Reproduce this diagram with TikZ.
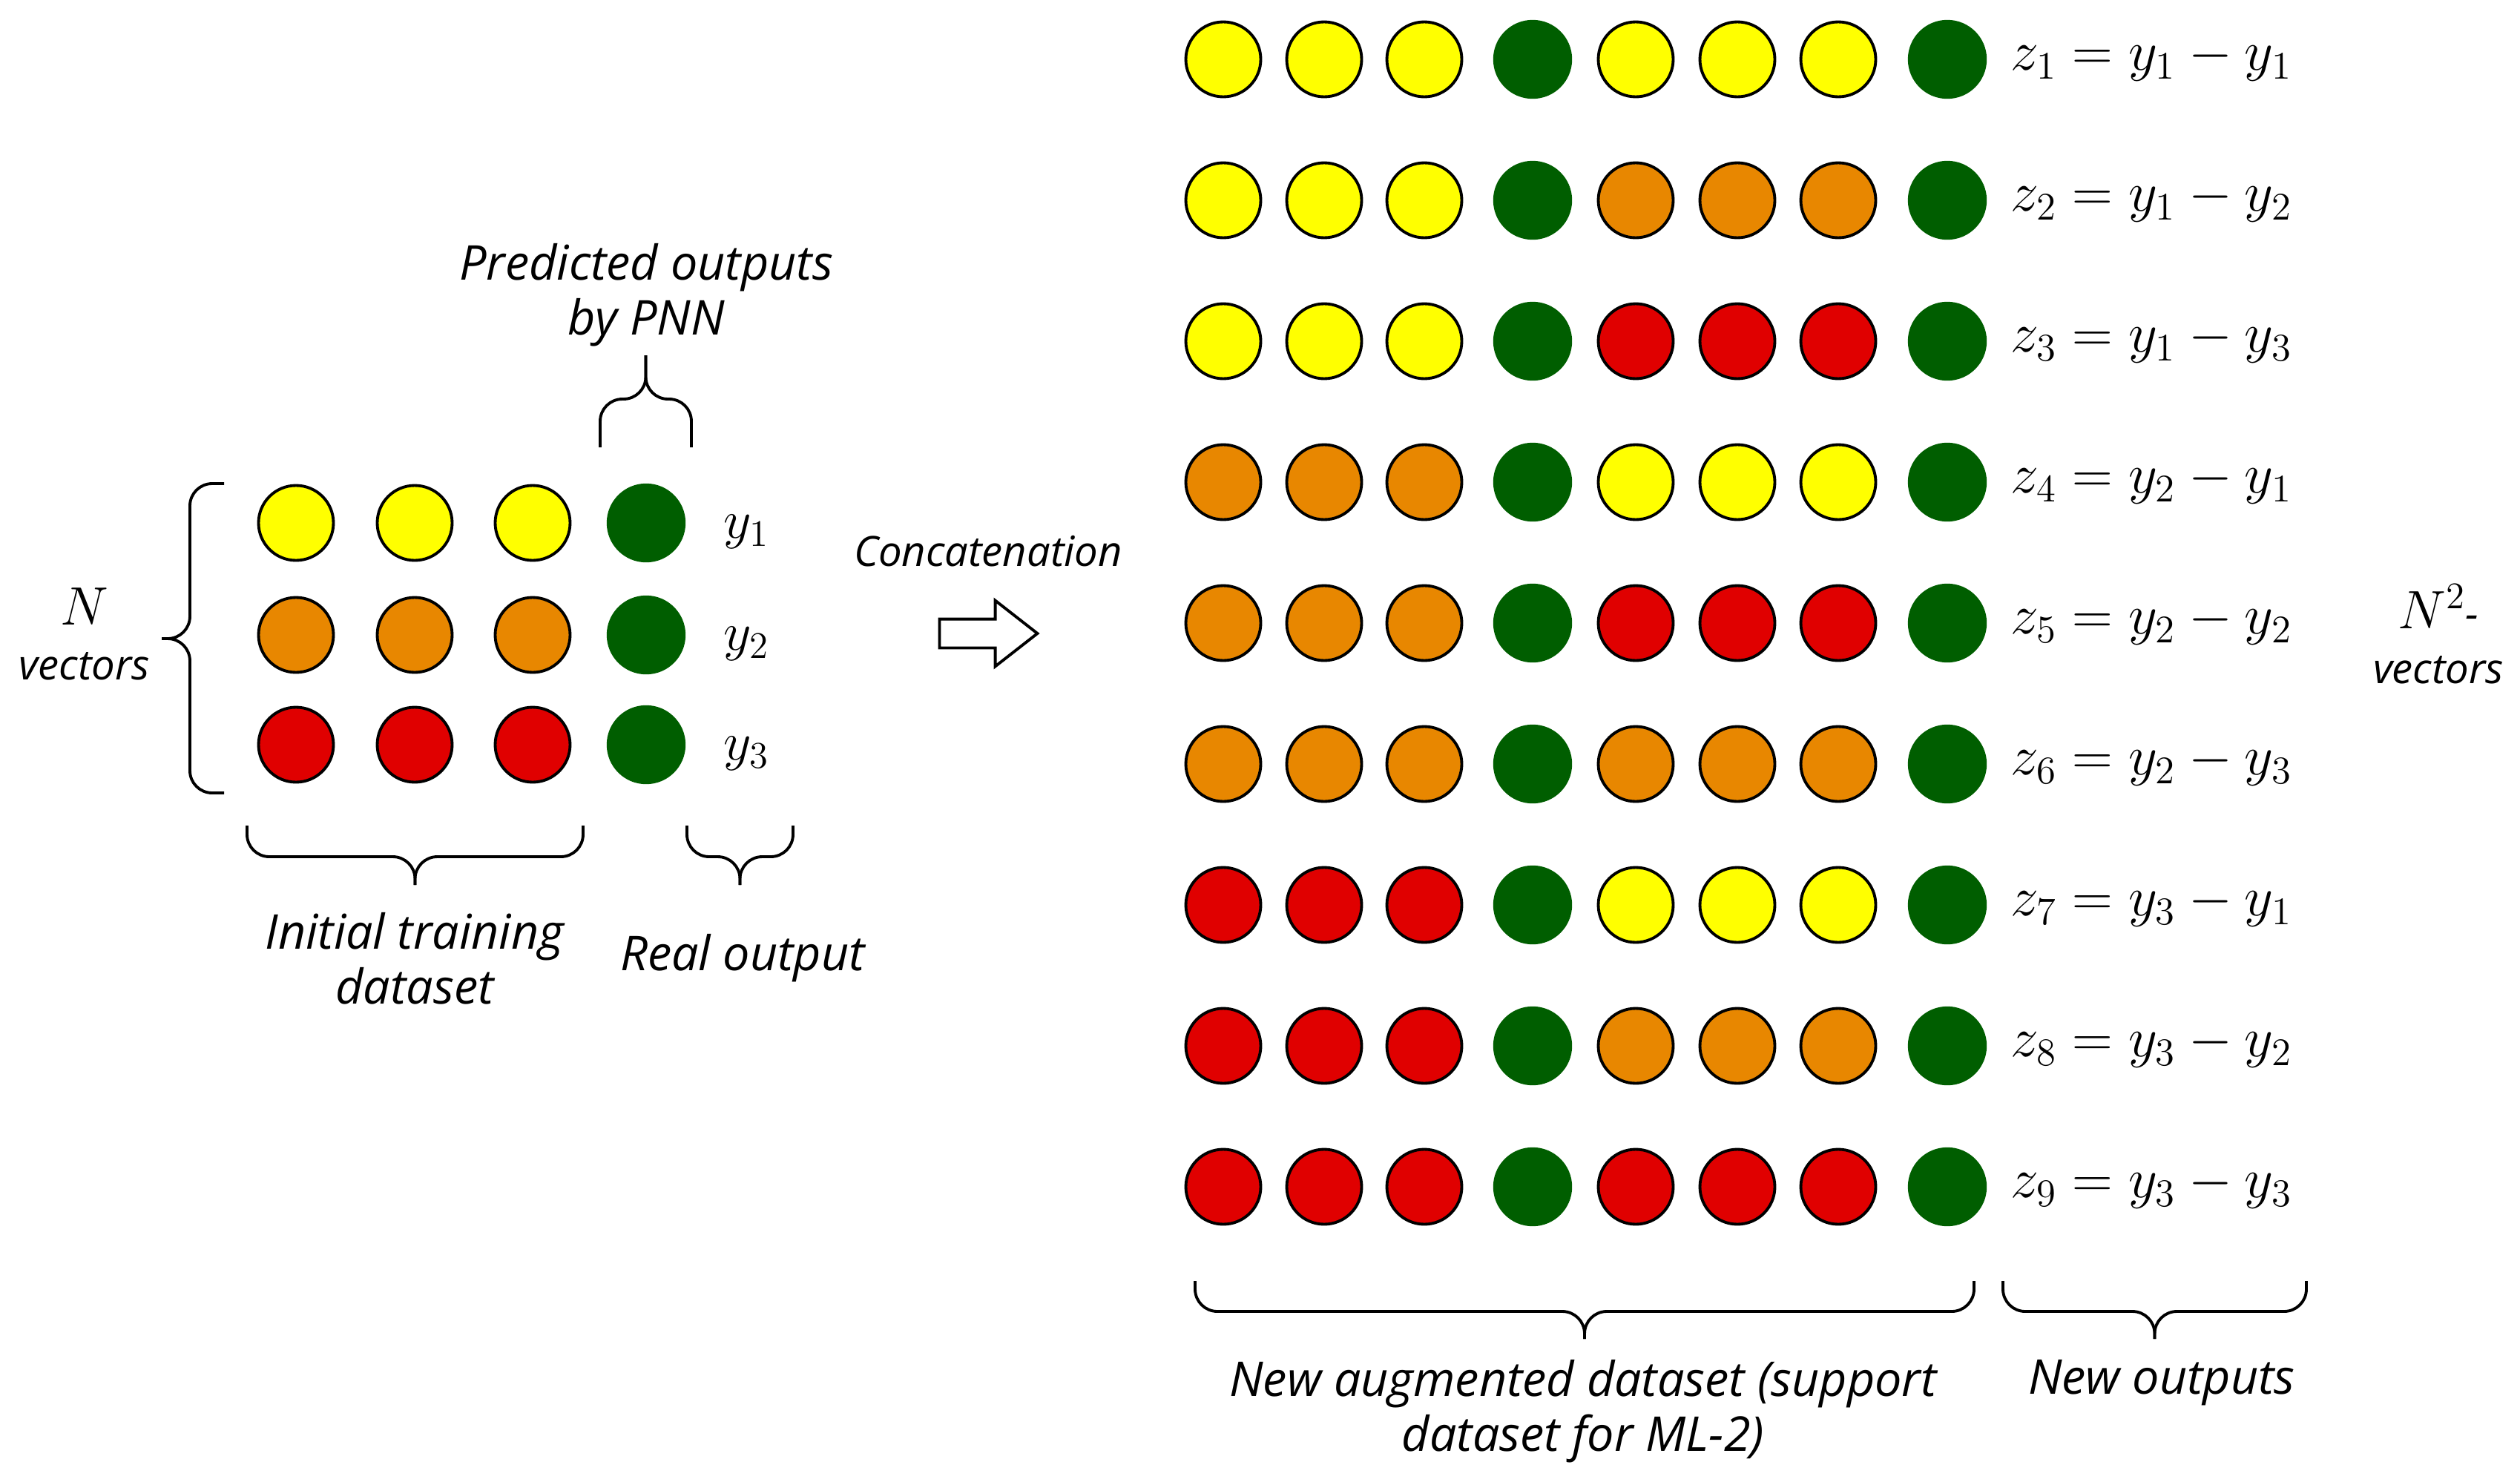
\documentclass[tikz,border=0pt]{standalone}
\usepackage{fontspec}
\setmainfont{Open Sans}
\usetikzlibrary{shapes.arrows}
\definecolor{pyellow}{HTML}{FFFF00}
\definecolor{porange}{HTML}{E88700}
\definecolor{pred}{HTML}{E00000}
\definecolor{pgreen}{HTML}{005E00}
\tikzset{
  dot/.style={circle, draw=black, line width=1.1pt, minimum size=1.01cm, inner sep=0pt},
  gdot/.style={circle, draw=pgreen, fill=pgreen, line width=0.4pt, minimum size=1.05cm, inner sep=0pt},
  lbl/.style={font=\fontsize{18.4}{21}\selectfont\itshape, align=center, inner sep=0pt},
  slbl/.style={font=\fontsize{16}{21}\selectfont\itshape, align=center, inner sep=0pt},
  eqn/.style={font=\fontsize{20.74}{25}\selectfont, inner sep=0pt},
  brc/.style={line width=1.1pt, rounded corners=0.3cm}
}
\begin{document}
\begin{tikzpicture}
    \useasboundingbox (0,0) rectangle (33.97,-19.97);
    % initial training dataset
    \foreach \r/\y/\col in {1/-7.05/pyellow, 2/-8.56/porange, 3/-10.04/pred} {
        \foreach \c/\x in {1/3.99, 2/5.59, 3/7.18}
            \node[dot, fill=\col] (in\r\c) at (\x,\y) {};
        \node[gdot] (out\r) at (8.71,\y) {};
        \node[eqn] (y\r) at (10.06,\y-0.12) {$y_{\r}$};
    }
    \node[slbl] (nvec) at (1.14,-8.55) {{\upshape\fontsize{20.74}{21}\selectfont$N$}\\vectors};
    \draw[brc] (3.02,-6.52) -- (2.56,-6.52) -- (2.56,-8.61) -- (2.18,-8.61);
    \draw[brc] (3.02,-10.69) -- (2.56,-10.69) -- (2.56,-8.61) -- (2.18,-8.61);
    \draw[brc] (8.09,-6.03) -- (8.09,-5.38) -- (8.705,-5.38) -- (8.705,-4.79);
    \draw[brc] (9.32,-6.03) -- (9.32,-5.38) -- (8.705,-5.38) -- (8.705,-4.79);
    \node[lbl] (pred) at (8.71,-3.98) {Predicted outputs\\by PNN};
    \draw[brc] (3.33,-11.13) -- (3.33,-11.55) -- (5.595,-11.55) -- (5.595,-11.93);
    \draw[brc] (7.86,-11.13) -- (7.86,-11.55) -- (5.595,-11.55) -- (5.595,-11.93);
    \node[lbl] (init) at (5.59,-12.92) {Initial training\\dataset};
    \draw[brc] (9.26,-11.13) -- (9.26,-11.55) -- (9.975,-11.55) -- (9.975,-11.93);
    \draw[brc] (10.69,-11.13) -- (10.69,-11.55) -- (9.975,-11.55) -- (9.975,-11.93);
    \node[lbl] (real) at (10.01,-12.92) {Real output};
    % concatenation
    \node[slbl] (concat) at (13.32,-7.43) {Concatenation};
    \node[single arrow, draw, line width=1.1pt, inner xsep=0pt, inner ysep=0.175cm,
          minimum height=1.32cm, single arrow head extend=0.25cm,
          single arrow tip angle=76] (arr) at (13.20,-8.54) {};
    % augmented dataset
    \foreach \k/\a/\b/\i/\j in {1/pyellow/pyellow/1/1, 2/pyellow/porange/1/2,
            3/pyellow/pred/1/3, 4/porange/pyellow/2/1, 5/porange/pred/2/2,
            6/porange/porange/2/3, 7/pred/pyellow/3/1, 8/pred/porange/3/2,
            9/pred/pred/3/3} {
        \pgfmathsetmacro{\y}{-0.8-1.9*(\k-1)}
        \foreach \c/\x in {1/16.49, 2/17.85, 3/19.20}
            \node[dot, fill=\a] (aug\k-\c) at (\x,\y) {};
        \node[gdot] (aug\k-4) at (20.66,\y) {};
        \foreach \c/\x in {5/22.05, 6/23.42, 7/24.78}
            \node[dot, fill=\b] (aug\k-\c) at (\x,\y) {};
        \node[gdot] (aug\k-8) at (26.25,\y) {};
        \node[eqn, scale=1.04, anchor=west] (z\k) at (27.10,\y) {$z_{\k}=y_{\i}-y_{\j}$};
    }
    \node[slbl] (n2vec) at (32.87,-8.55) {{\upshape\fontsize{20.74}{21}\selectfont$N^2$}-\\vectors};
    \draw[brc] (16.11,-17.27) -- (16.11,-17.68) -- (21.36,-17.68) -- (21.36,-18.05);
    \draw[brc] (26.61,-17.27) -- (26.61,-17.68) -- (21.36,-17.68) -- (21.36,-18.05);
    \node[lbl] (augset) at (21.34,-19.03) {New augmented dataset (support\\dataset for ML-2)};
    \draw[brc] (27.00,-17.27) -- (27.00,-17.68) -- (29.045,-17.68) -- (29.045,-18.05);
    \draw[brc] (31.09,-17.27) -- (31.09,-17.68) -- (29.045,-17.68) -- (29.045,-18.05);
    \node[lbl] (newout) at (29.14,-18.64) {New outputs};
\end{tikzpicture}
\end{document}
